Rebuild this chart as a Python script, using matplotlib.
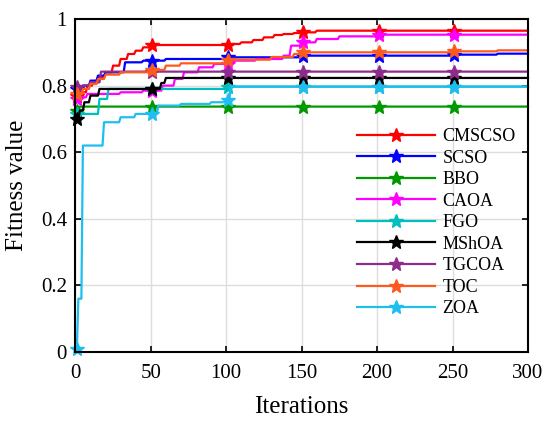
import numpy as np
import matplotlib
matplotlib.use('Agg')
from matplotlib import pyplot as plt

# breakpoints (iteration, best fitness)
names = ['CMSCSO', 'SCSO', 'BBO', 'CAOA', 'FGO', 'MShOA', 'TGCOA', 'TOC', 'ZOA']
colors = ['#FF0000', '#0000FF', '#009900', '#FF00FF', '#00BFBF',
          '#000000', '#8E2C8E', '#FF5A1E', '#1EBEF0']

cmscso_it = [1, 4, 8, 12, 16, 20, 25, 30, 35, 40, 45, 50, 104, 110, 118, 125, 132, 138, 145, 150, 160]
cmscso_val = [0.77, 0.78, 0.80, 0.81, 0.825, 0.84, 0.86, 0.88, 0.895, 0.905, 0.915, 0.922,
              0.925, 0.93, 0.937, 0.945, 0.952, 0.955, 0.958, 0.96, 0.965]

scso_it = [1, 5, 10, 15, 20, 33, 45, 60, 100, 150, 250, 280]
scso_val = [0.79, 0.80, 0.815, 0.83, 0.84, 0.87, 0.875, 0.88, 0.885, 0.89, 0.893, 0.896]

bbo_it = [1, 3]
bbo_val = [0.725, 0.737]

caoa_it = [1, 3, 8, 30, 45, 58, 66, 72, 82, 92, 105, 120, 138, 143, 150, 160, 175, 200]
caoa_val = [0.76, 0.765, 0.775, 0.78, 0.785, 0.80, 0.82, 0.84, 0.855, 0.865, 0.875, 0.88,
            0.89, 0.92, 0.93, 0.94, 0.948, 0.953]

fgo_it = [1, 16, 22, 100]
fgo_val = [0.715, 0.76, 0.79, 0.797]

mshoa_it = [1, 3, 6, 10, 16, 57, 60]
mshoa_val = [0.70, 0.725, 0.75, 0.77, 0.79, 0.808, 0.823]

tgcoa_it = [1, 5, 10, 17]
tgcoa_val = [0.795, 0.80, 0.81, 0.842]

toc_it = [1, 5, 10, 15, 20, 30, 50, 60, 70, 100, 130, 145, 150, 250, 280]
toc_val = [0.775, 0.79, 0.805, 0.82, 0.833, 0.84, 0.847, 0.86, 0.867, 0.878, 0.886,
           0.895, 0.90, 0.903, 0.906]

zoa_it = [1, 2, 5, 19, 30, 40, 55, 70, 90, 100, 103]
zoa_val = [0.01, 0.16, 0.62, 0.69, 0.705, 0.715, 0.74, 0.745, 0.75, 0.757, 0.797]

breaks = [(cmscso_it, cmscso_val), (scso_it, scso_val), (bbo_it, bbo_val),
          (caoa_it, caoa_val), (fgo_it, fgo_val), (mshoa_it, mshoa_val),
          (tgcoa_it, tgcoa_val), (toc_it, toc_val), (zoa_it, zoa_val)]

n_iter = 300
x = np.arange(1, n_iter + 1)


def hold(it, val):
    # best-so-far curve: keep each value until the next improvement
    idx = np.searchsorted(np.array(it), x, side='right') - 1
    return np.array(val)[idx]


plt.rcParams['font.family'] = 'Liberation Serif'
fig = plt.figure(figsize=(5.5, 4.23), dpi=100)
ax = fig.add_axes([0.137, 0.168, 0.823, 0.787])

for name, c, (it, val) in zip(names, colors, breaks):
    ax.plot(x, hold(it, val), color=c, lw=1.6, marker='*', ms=10,
            markevery=list(range(0, n_iter, 50)), label=name, clip_on=False)

ax.set_xlim(0, 300)
ax.set_ylim(0, 1)
ax.set_xticks(range(0, 301, 50))
ax.set_yticks([0, 0.2, 0.4, 0.6, 0.8, 1])
ax.set_yticklabels(['0', '0.2', '0.4', '0.6', '0.8', '1'])
ax.grid(True, color='#DDDDDD', lw=1.0)
ax.set_axisbelow(True)
ax.tick_params(direction='in', top=True, right=True, labelsize=15, length=4, width=1.2)
ax.tick_params(axis='x', pad=9)
ax.tick_params(axis='y', pad=6)
for s in ax.spines.values():
    s.set_linewidth(1.5)

ax.set_xlabel('Iterations', fontsize=18, labelpad=9)
ax.set_ylabel('Fitness value', fontsize=18, labelpad=9)

ax.legend(loc='upper left', bbox_to_anchor=(0.622, 0.672), frameon=False, fontsize=13,
          handlelength=4.3, handletextpad=0.45, labelspacing=0.25,
          borderpad=0, borderaxespad=0)

fig.savefig('out.png', dpi=100)
